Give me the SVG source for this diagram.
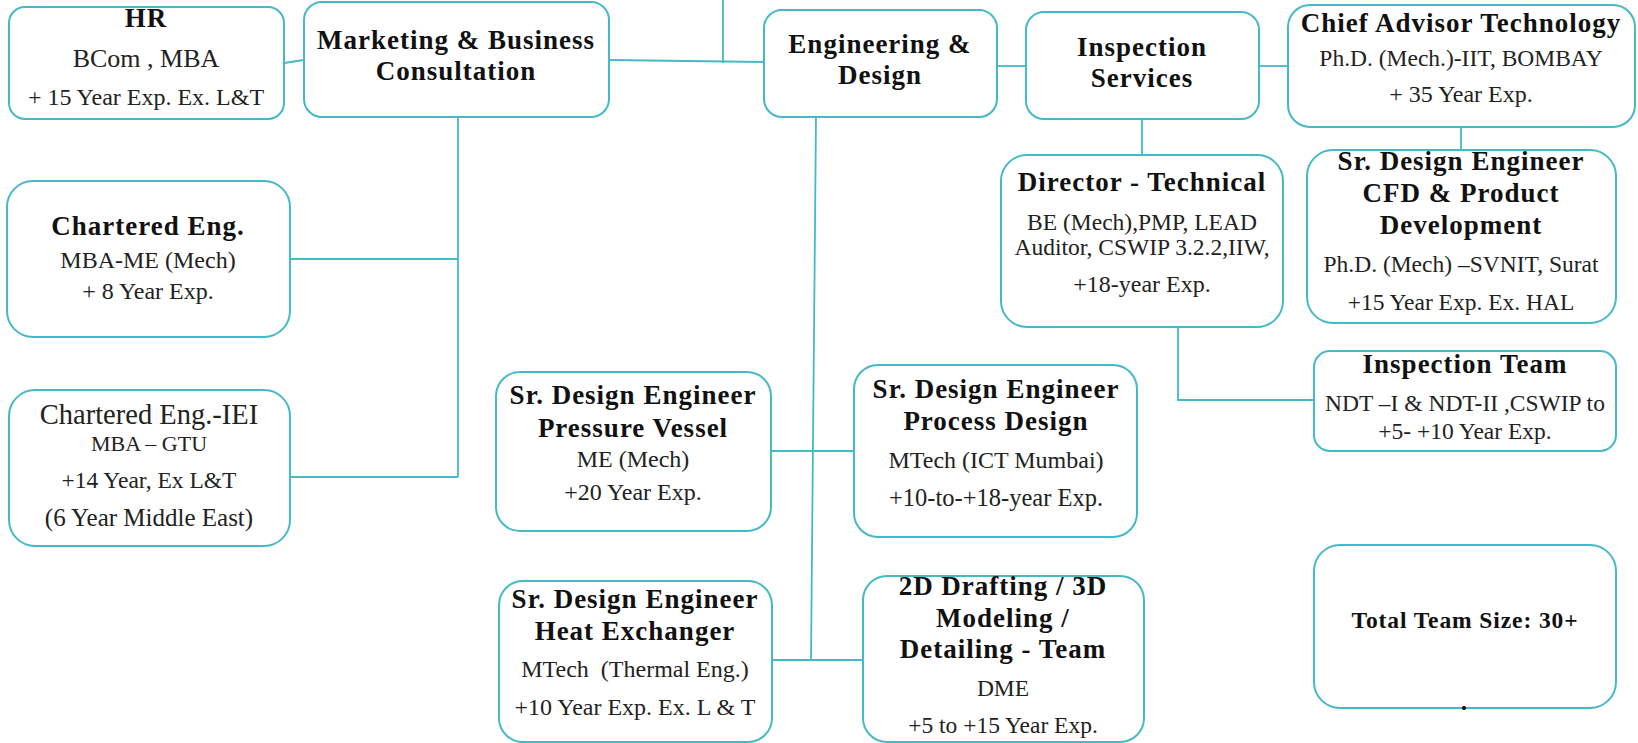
<svg xmlns="http://www.w3.org/2000/svg" width="1638" height="743" viewBox="0 0 1638 743">
<style>
.box{fill:#fff;stroke:#45B9C6;stroke-width:2}
.ln{stroke:#45B9C6;stroke-width:1.8;fill:none}
text{font-family:"Liberation Serif","DejaVu Serif",serif;text-anchor:middle}
.b{font-weight:bold;font-size:27px;letter-spacing:1px;fill:#111}
.r{font-size:23.5px;fill:#222}
</style>
<rect width="1638" height="743" fill="#fff"/>
<g id="connectors">
<line class="ln" x1="284" y1="63" x2="304" y2="60"/>
<line class="ln" x1="609" y1="60" x2="764" y2="62"/>
<line class="ln" x1="723" y1="0" x2="723" y2="63"/>
<line class="ln" x1="997" y1="66" x2="1026" y2="66"/>
<line class="ln" x1="1259" y1="66" x2="1288" y2="66"/>
<line class="ln" x1="1461" y1="127" x2="1461" y2="150"/>
<line class="ln" x1="1142" y1="119" x2="1142" y2="155"/>
<polyline class="ln" points="1178,327 1178,400 1314,400"/>
<line class="ln" x1="458" y1="117" x2="458" y2="477"/>
<line class="ln" x1="290" y1="259" x2="458" y2="259"/>
<line class="ln" x1="290" y1="477" x2="458" y2="477"/>
<line class="ln" x1="816" y1="117" x2="811" y2="660"/>
<line class="ln" x1="771" y1="451" x2="854" y2="451"/>
<line class="ln" x1="772" y1="660" x2="863" y2="660"/>
</g>
<g id="hr">
<rect class="box" x="9" y="7" width="275" height="112" rx="16"/>
<text class="b" x="146" y="27">HR</text>
<text class="r" x="146" y="67" style="font-size:26px">BCom , MBA</text>
<text class="r" x="146" y="105" style="font-size:24px">+ 15 Year Exp. Ex. L&amp;T</text>
</g>
<g id="marketing">
<rect class="box" x="304" y="2" width="305" height="115" rx="18"/>
<text class="b" x="456" y="49">Marketing &amp; Business</text>
<text class="b" x="456" y="80">Consultation</text>
</g>
<g id="engineering">
<rect class="box" x="764" y="10" width="233" height="107" rx="18"/>
<text class="b" x="880" y="53">Engineering &amp;</text>
<text class="b" x="880" y="84">Design</text>
</g>
<g id="inspection-services">
<rect class="box" x="1026" y="12" width="233" height="107" rx="18"/>
<text class="b" x="1142" y="56">Inspection</text>
<text class="b" x="1142" y="87">Services</text>
</g>
<g id="chief-advisor">
<rect class="box" x="1288" y="5" width="347" height="122" rx="22"/>
<text class="b" x="1461" y="32">Chief Advisor Technology</text>
<text class="r" x="1461" y="66">Ph.D. (Mech.)-IIT, BOMBAY</text>
<text class="r" x="1461" y="102" style="font-size:24px">+ 35 Year Exp.</text>
</g>
<g id="sr-design-cfd">
<rect class="box" x="1307" y="150" width="309" height="173" rx="26"/>
<text class="b" x="1461" y="170">Sr. Design Engineer</text>
<text class="b" x="1461" y="202">CFD &amp; Product</text>
<text class="b" x="1461" y="234">Development</text>
<text class="r" x="1461" y="272">Ph.D. (Mech) –SVNIT, Surat</text>
<text class="r" x="1461" y="310">+15 Year Exp. Ex. HAL</text>
</g>
<g id="director-technical">
<rect class="box" x="1001" y="155" width="282" height="172" rx="26"/>
<text class="b" x="1142" y="191">Director - Technical</text>
<text class="r" x="1142" y="230">BE (Mech),PMP, LEAD</text>
<text class="r" x="1142" y="255">Auditor, CSWIP 3.2.2,IIW,</text>
<text class="r" x="1142" y="292" style="font-size:24px">+18-year Exp.</text>
</g>
<g id="inspection-team">
<rect class="box" x="1314" y="351" width="302" height="100" rx="16"/>
<text class="b" x="1465" y="373">Inspection Team</text>
<text class="r" x="1465" y="411">NDT –I &amp; NDT-II ,CSWIP to</text>
<text class="r" x="1465" y="439">+5- +10 Year Exp.</text>
</g>
<g id="total-team">
<rect class="box" x="1314" y="545" width="302" height="163" rx="26"/>
<text class="b" x="1465" y="628" style="font-size:23.5px;letter-spacing:0.9px">Total Team Size: 30+</text>
<circle cx="1464" cy="708" r="2" fill="#000"/>
</g>
<g id="chartered-eng">
<rect class="box" x="7" y="181" width="283" height="156" rx="26"/>
<text class="b" x="148" y="235">Chartered Eng.</text>
<text class="r" x="148" y="268" style="font-size:24px">MBA-ME (Mech)</text>
<text class="r" x="148" y="299" style="font-size:24px">+ 8 Year Exp.</text>
</g>
<g id="chartered-eng-iei">
<rect class="box" x="9" y="390" width="281" height="156" rx="26"/>
<text class="r" x="149" y="424" style="font-size:28.5px">Chartered Eng.-IEI</text>
<text class="r" x="149" y="451" style="font-size:22px">MBA – GTU</text>
<text class="r" x="149" y="488" style="font-size:23.5px">+14 Year, Ex L&amp;T</text>
<text class="r" x="149" y="526" style="font-size:25px">(6 Year Middle East)</text>
</g>
<g id="pressure-vessel">
<rect class="box" x="496" y="372" width="275" height="159" rx="24"/>
<text class="b" x="633" y="404">Sr. Design Engineer</text>
<text class="b" x="633" y="437">Pressure Vessel</text>
<text class="r" x="633" y="467" style="font-size:24px">ME (Mech)</text>
<text class="r" x="633" y="500" style="font-size:24px">+20 Year Exp.</text>
</g>
<g id="process-design">
<rect class="box" x="854" y="365" width="283" height="172" rx="24"/>
<text class="b" x="996" y="398">Sr. Design Engineer</text>
<text class="b" x="996" y="430">Process Design</text>
<text class="r" x="996" y="468" style="font-size:24px">MTech (ICT Mumbai)</text>
<text class="r" x="996" y="506" style="font-size:24.5px">+10-to-+18-year Exp.</text>
</g>
<g id="heat-exchanger">
<rect class="box" x="499" y="581" width="273" height="161" rx="24"/>
<text class="b" x="635" y="608">Sr. Design Engineer</text>
<text class="b" x="635" y="640">Heat Exchanger</text>
<text class="r" x="635" y="677" style="font-size:24px;white-space:pre">MTech  (Thermal Eng.)</text>
<text class="r" x="635" y="715" style="font-size:24px">+10 Year Exp. Ex. L &amp; T</text>
</g>
<g id="drafting-team">
<rect class="box" x="863" y="576" width="281" height="166" rx="24"/>
<text class="b" x="1003" y="595">2D Drafting / 3D</text>
<text class="b" x="1003" y="627">Modeling /</text>
<text class="b" x="1003" y="658">Detailing - Team</text>
<text class="r" x="1003" y="696">DME</text>
<text class="r" x="1003" y="733">+5 to +15 Year Exp.</text>
</g>
</svg>
